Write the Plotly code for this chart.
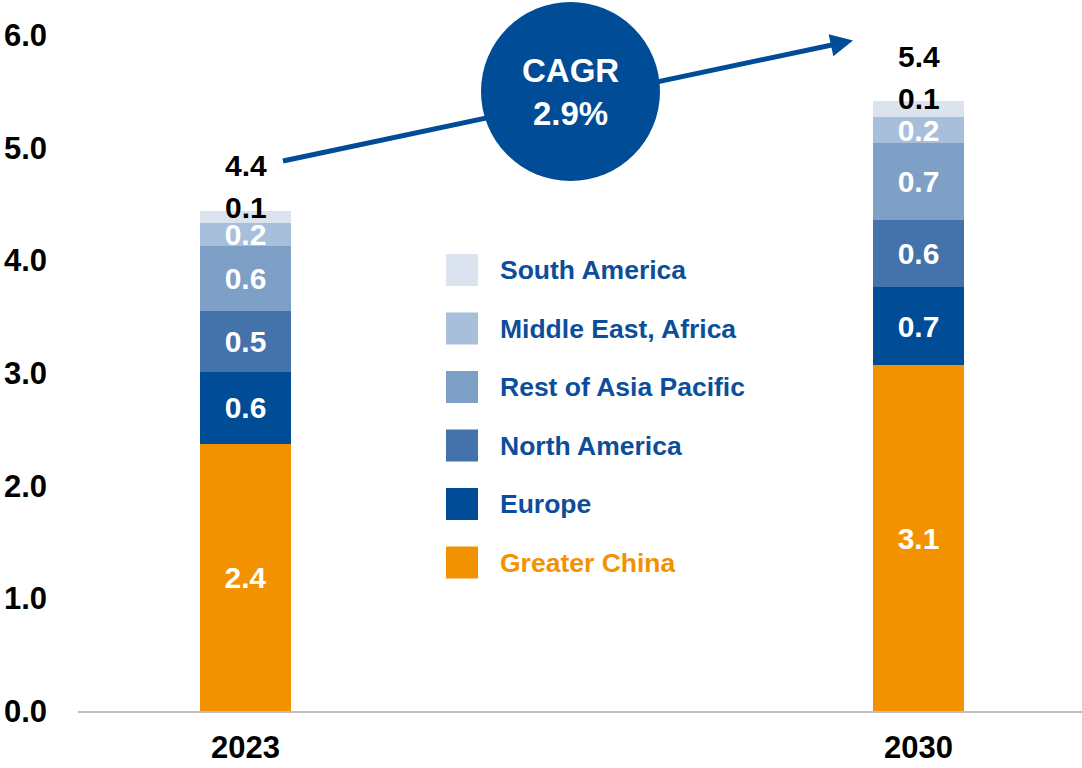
import plotly.graph_objects as go

# Market size by region (stacked), bottom segment first
years = ["2023", "2030"]
regions = ["Greater China", "Europe", "North America",
           "Rest of Asia Pacific", "Middle East, Africa", "South America"]
greater_china = [2.37, 3.07]
europe = [0.64, 0.69]
north_america = [0.54, 0.60]
rest_of_apac = [0.58, 0.68]
middle_east_africa = [0.20, 0.23]
south_america = [0.11, 0.14]
series = [greater_china, europe, north_america, rest_of_apac,
          middle_east_africa, south_america]
colors = ["#F39200", "#004C97", "#4472AA", "#7EA0C7", "#A7BFDA", "#DAE3EE"]
legend_text_colors = ["#F39200", "#0D4E9A", "#0D4E9A", "#0D4E9A", "#0D4E9A", "#0D4E9A"]
y_ticks = [0, 1, 2, 3, 4, 5, 6]
cagr_label = "<b>CAGR<br>2.9%</b>"

FONT = "Arial, Liberation Sans, sans-serif"
NUM_SIZE = 30
W, H = 1082, 768
L, R, T, B = 78, 0, 35, 57
PW, PH = W - L - R, H - T - B


def px_x(x):
    return (x - L) / PW


def px_y(y):
    return (H - B - y) / PH


fig = go.Figure()

for name, vals, col in zip(regions, series, colors):
    is_top = name == "South America"
    fig.add_trace(go.Bar(
        x=years, y=vals, name=name, marker=dict(color=col, line=dict(width=0)),
        width=0.135,
        texttemplate="" if is_top else "<b>%{y:.1f}</b>",
        textposition="inside", insidetextanchor="middle",
        constraintext="none", cliponaxis=False,
        textfont=dict(family=FONT, size=NUM_SIZE, color="white"),
        showlegend=False,
    ))

totals = [sum(s[i] for s in series) for i in range(len(years))]

annotations = []
# labels for the thin top segment and the totals above each bar
for i, yr in enumerate(years):
    annotations.append(dict(
        x=i, y=totals[i], xref="x", yref="y",
        text=f"<b>{south_america[i]:.1f}</b>",
        showarrow=False, yanchor="middle", yshift=3,
        font=dict(family=FONT, size=NUM_SIZE, color="black")))
    annotations.append(dict(
        x=i, y=totals[i], xref="x", yref="y", text=f"<b>{totals[i]:.1f}</b>",
        showarrow=False, yanchor="middle", yshift=45,
        font=dict(family=FONT, size=NUM_SIZE, color="black")))

shapes = []
# growth arrow: shaft as a line, CAGR circle on top, head via a short annotation arrow
tail = (283, 161)
tip = (853, 40.5)
dx, dy = tip[0] - tail[0], tip[1] - tail[1]
n = (dx ** 2 + dy ** 2) ** 0.5
ux, uy = dx / n, dy / n
shaft_end = (tip[0] - 12 * ux, tip[1] - 12 * uy)
shapes.append(dict(type="line", xref="paper", yref="paper",
                   x0=px_x(tail[0]), y0=px_y(tail[1]),
                   x1=px_x(shaft_end[0]), y1=px_y(shaft_end[1]),
                   line=dict(color="#004C97", width=5)))
annotations.append(dict(
    x=px_x(tip[0]), y=px_y(tip[1]), xref="paper", yref="paper",
    ax=-22 * ux, ay=-22 * uy, axref="pixel", ayref="pixel",
    showarrow=True, arrowhead=2, arrowsize=0.9, arrowwidth=5,
    arrowcolor="#004C97", text=""))

cx, cy, r = 570.5, 91.5, 89.5
shapes.append(dict(type="circle", xref="paper", yref="paper",
                   x0=px_x(cx - r), x1=px_x(cx + r),
                   y0=px_y(cy + r), y1=px_y(cy - r),
                   fillcolor="#004C97", line=dict(width=0)))
annotations.append(dict(
    x=px_x(cx), y=px_y(cy), xref="paper", yref="paper", text=cagr_label,
    showarrow=False, align="center", xanchor="center", yanchor="middle",
    font=dict(family=FONT, size=33, color="white")))

# legend: swatches and labels, top entry first
legend_rows_y = [270, 328.5, 387, 445.5, 504, 562.5]
for k, (name, col, tcol) in enumerate(zip(regions[::-1], colors[::-1],
                                          legend_text_colors[::-1])):
    yc = legend_rows_y[k]
    shapes.append(dict(type="rect", xref="paper", yref="paper",
                       x0=px_x(446), x1=px_x(478),
                       y0=px_y(yc + 16), y1=px_y(yc - 16),
                       fillcolor=col, line=dict(width=0)))
    annotations.append(dict(
        x=px_x(498), y=px_y(yc), xref="paper", yref="paper", text=f"<b>{name}</b>",
        showarrow=False, xanchor="left", yanchor="middle",
        font=dict(family=FONT, size=26.5, color=tcol)))

r0 = -(245.5 - L) / 673
r1 = r0 + PW / 673

fig.update_layout(
    width=W, height=H, barmode="stack",
    margin=dict(l=L, r=R, t=T, b=B, autoexpand=False),
    paper_bgcolor="white", plot_bgcolor="white",
    font=dict(family=FONT, color="black"),
    showlegend=False,
    xaxis=dict(type="category", range=[r0, r1], showgrid=False, zeroline=False,
               showline=True, linecolor="#BFBFBF", linewidth=2,
               ticks="", ticklabelstandoff=8,
               tickfont=dict(family=FONT, size=31, color="black"),
               tickvals=years, ticktext=[f"<b>{y}</b>" for y in years]),
    yaxis=dict(range=[0, 6], tickvals=y_ticks,
               ticktext=[f"<b>{v:.1f}</b>" for v in y_ticks],
               showgrid=False, zeroline=False, showline=False, ticks="",
               ticklabelstandoff=30,
               tickfont=dict(family=FONT, size=31, color="black")),
    shapes=shapes, annotations=annotations,
)

fig.write_html("out.html")
